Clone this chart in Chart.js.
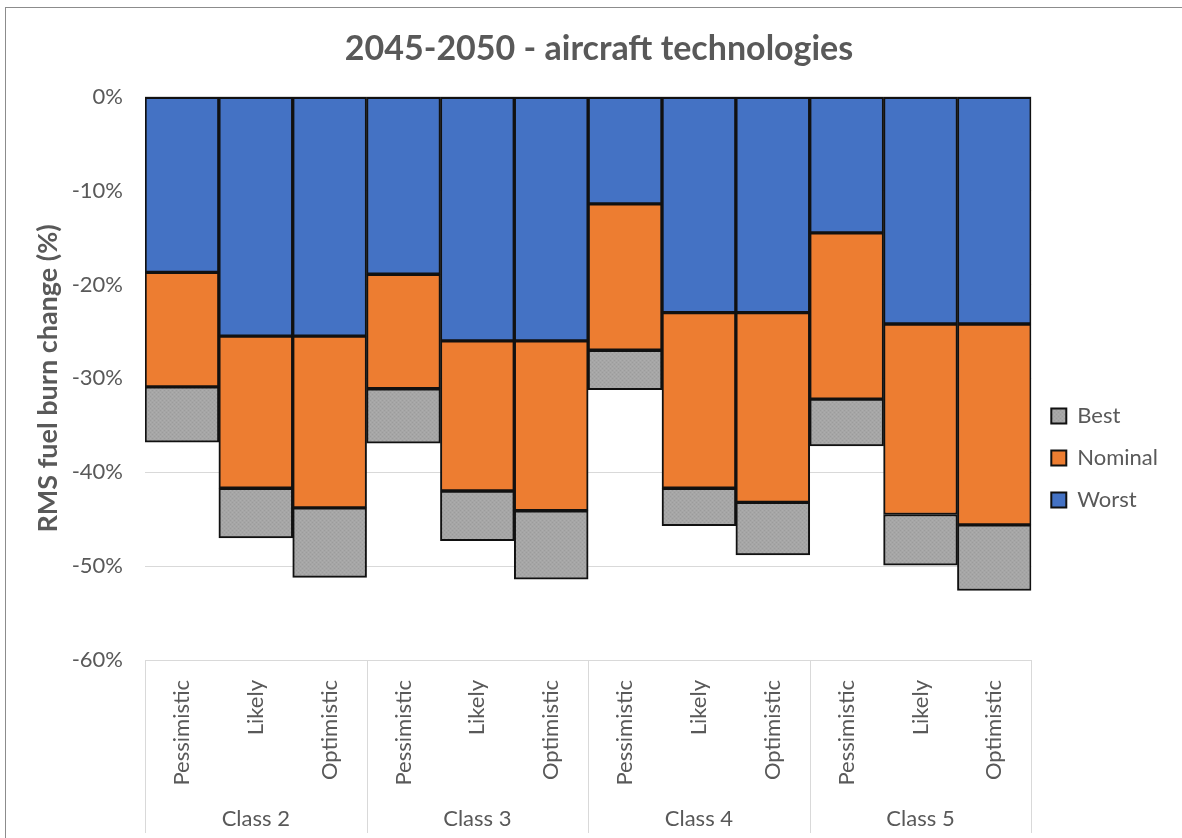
<!DOCTYPE html>
<html>
<head>
<meta charset="utf-8">
<script src="https://cdn.jsdelivr.net/npm/chart.js@4/dist/chart.umd.min.js"></script>
<style>
  body { margin: 0; background: #fff; overflow: hidden; }
  #frame { position: absolute; left: 5px; top: 7px; width: 1200px; height: 900px; border: 1px solid #8c8c8c; }
  canvas { display: block; }
</style>
</head>
<body>
<div id="frame"><canvas id="chart" width="1176" height="830"></canvas></div>
<script>
// categories
var classes = ["Class 2", "Class 3", "Class 4", "Class 5"];
var scenarios = ["Pessimistic", "Likely", "Optimistic"];
// levels (%), per bar: C2 P/L/O, C3 P/L/O, C4 P/L/O, C5 P/L/O
var worst   = [-18.7, -25.5, -25.5, -18.9, -26.0, -26.0, -11.4, -23.0, -23.0, -14.5, -24.2, -24.2];
var nominal = [-30.9, -41.7, -43.8, -31.1, -42.0, -44.1, -27.0, -41.7, -43.2, -32.2, -44.5, -45.6];
var best    = [-36.8, -47.0, -51.2, -36.9, -47.3, -51.4, -31.2, -45.7, -48.8, -37.2, -49.9, -52.6];
var yTicks  = [0, -10, -20, -30, -40, -50, -60];

var FONT = "Lato";
var GREY = "#595959";

var labels = [];
classes.forEach(c => scenarios.forEach(s => labels.push(s)));

// stacked pieces
var worstPart = worst.slice();
var nominalPart = nominal.map((v, i) => v - worst[i]);
var bestPart = best.map((v, i) => v - nominal[i]);

// dotted grey fill for "Best"
function makePattern() {
    var c = document.createElement("canvas");
    c.width = 4; c.height = 4;
    var g = c.getContext("2d");
    g.fillStyle = "#a6a6a6";
    g.fillRect(0, 0, 4, 4);
    g.fillStyle = "#9c9c9c";
    g.fillRect(0, 0, 1, 1);
    g.fillRect(2, 2, 1, 1);
    g.fillStyle = "#adadad";
    g.fillRect(2, 0, 1, 1);
    g.fillRect(0, 2, 1, 1);
    return g.createPattern(c, "repeat");
}

// group separators and class labels under the axis
var groupPlugin = {
    id: "groups",
    afterDraw(chart) {
        var x = chart.scales.x;
        var ctx = chart.ctx;
        var half = (x.getPixelForValue(1) - x.getPixelForValue(0)) / 2;
        var top = chart.chartArea.bottom;
        var bottom = chart.height - 5;
        ctx.save();
        ctx.strokeStyle = "#d9d9d9";
        ctx.lineWidth = 1;
        for (var g = 0; g <= classes.length; g++) {
            var px;
            if (g < classes.length) px = x.getPixelForValue(g * scenarios.length) - half;
            else px = x.getPixelForValue(labels.length - 1) + half;
            px = Math.round(px) + 0.5;
            ctx.beginPath();
            ctx.moveTo(px, top);
            ctx.lineTo(px, bottom);
            ctx.stroke();
        }
        ctx.fillStyle = GREY;
        ctx.font = "22px " + FONT;
        ctx.textAlign = "center";
        ctx.textBaseline = "middle";
        classes.forEach((c, g) => {
            var mid = x.getPixelForValue(g * scenarios.length + 1);
            ctx.fillText(c, mid, chart.height - 19);
        });
        ctx.restore();
    }
};

var segStyle = { borderColor: "#111111", borderWidth: 2, borderSkipped: false };

new Chart(document.getElementById("chart"), {
    type: "bar",
    data: {
        labels: labels,
        datasets: [
            Object.assign({ label: "Worst", data: worstPart, backgroundColor: "#4472c4" }, segStyle),
            Object.assign({ label: "Nominal", data: nominalPart, backgroundColor: "#ed7d31" }, segStyle),
            Object.assign({ label: "Best", data: bestPart, backgroundColor: makePattern() }, segStyle)
        ]
    },
    options: {
        responsive: false,
        animation: false,
        layout: { padding: { left: 24, right: 14, top: 0, bottom: 0 } },
        datasets: { bar: { barPercentage: 1, categoryPercentage: 1 } },
        plugins: {
            title: {
                display: true,
                text: "2045-2050 - aircraft technologies",
                color: GREY,
                font: { family: FONT, size: 34, weight: "bold" },
                padding: { top: 21, bottom: 27 }
            },
            legend: {
                position: "right",
                reverse: true,
                title: {
                    display: true,
                    text: " ",
                    font: { size: 10 },
                    padding: { top: 0, bottom: 58 }
                },
                labels: {
                    color: GREY,
                    font: { family: FONT, size: 22 },
                    boxWidth: 15,
                    boxHeight: 15,
                    padding: 20
                }
            },
            tooltip: { enabled: false }
        },
        scales: {
            x: {
                stacked: true,
                grid: { display: false },
                border: { display: false },
                ticks: {
                    color: GREY,
                    font: { family: FONT, size: 22 },
                    minRotation: 90,
                    maxRotation: 90,
                    autoSkip: false,
                    padding: 12
                },
                afterFit(scale) { scale.height = 178; }
            },
            y: {
                stacked: true,
                min: yTicks[yTicks.length - 1],
                max: yTicks[0],
                border: { display: false },
                grid: { color: "#d9d9d9", lineWidth: 1, drawTicks: false, tickLength: 0 },
                afterBuildTicks(scale) { scale.ticks = yTicks.map(v => ({ value: v })); },
                ticks: {
                    color: GREY,
                    font: { family: FONT, size: 22 },
                    padding: 22,
                    callback: v => v + "%"
                },
                title: {
                    display: true,
                    text: "RMS fuel burn change (%)",
                    color: GREY,
                    font: { family: FONT, size: 27, weight: "bold" },
                    padding: { top: 2, bottom: 0 }
                },
                afterFit(scale) { scale.width = 115; }
            }
        }
    },
    plugins: [groupPlugin]
});
</script>
</body>
</html>
